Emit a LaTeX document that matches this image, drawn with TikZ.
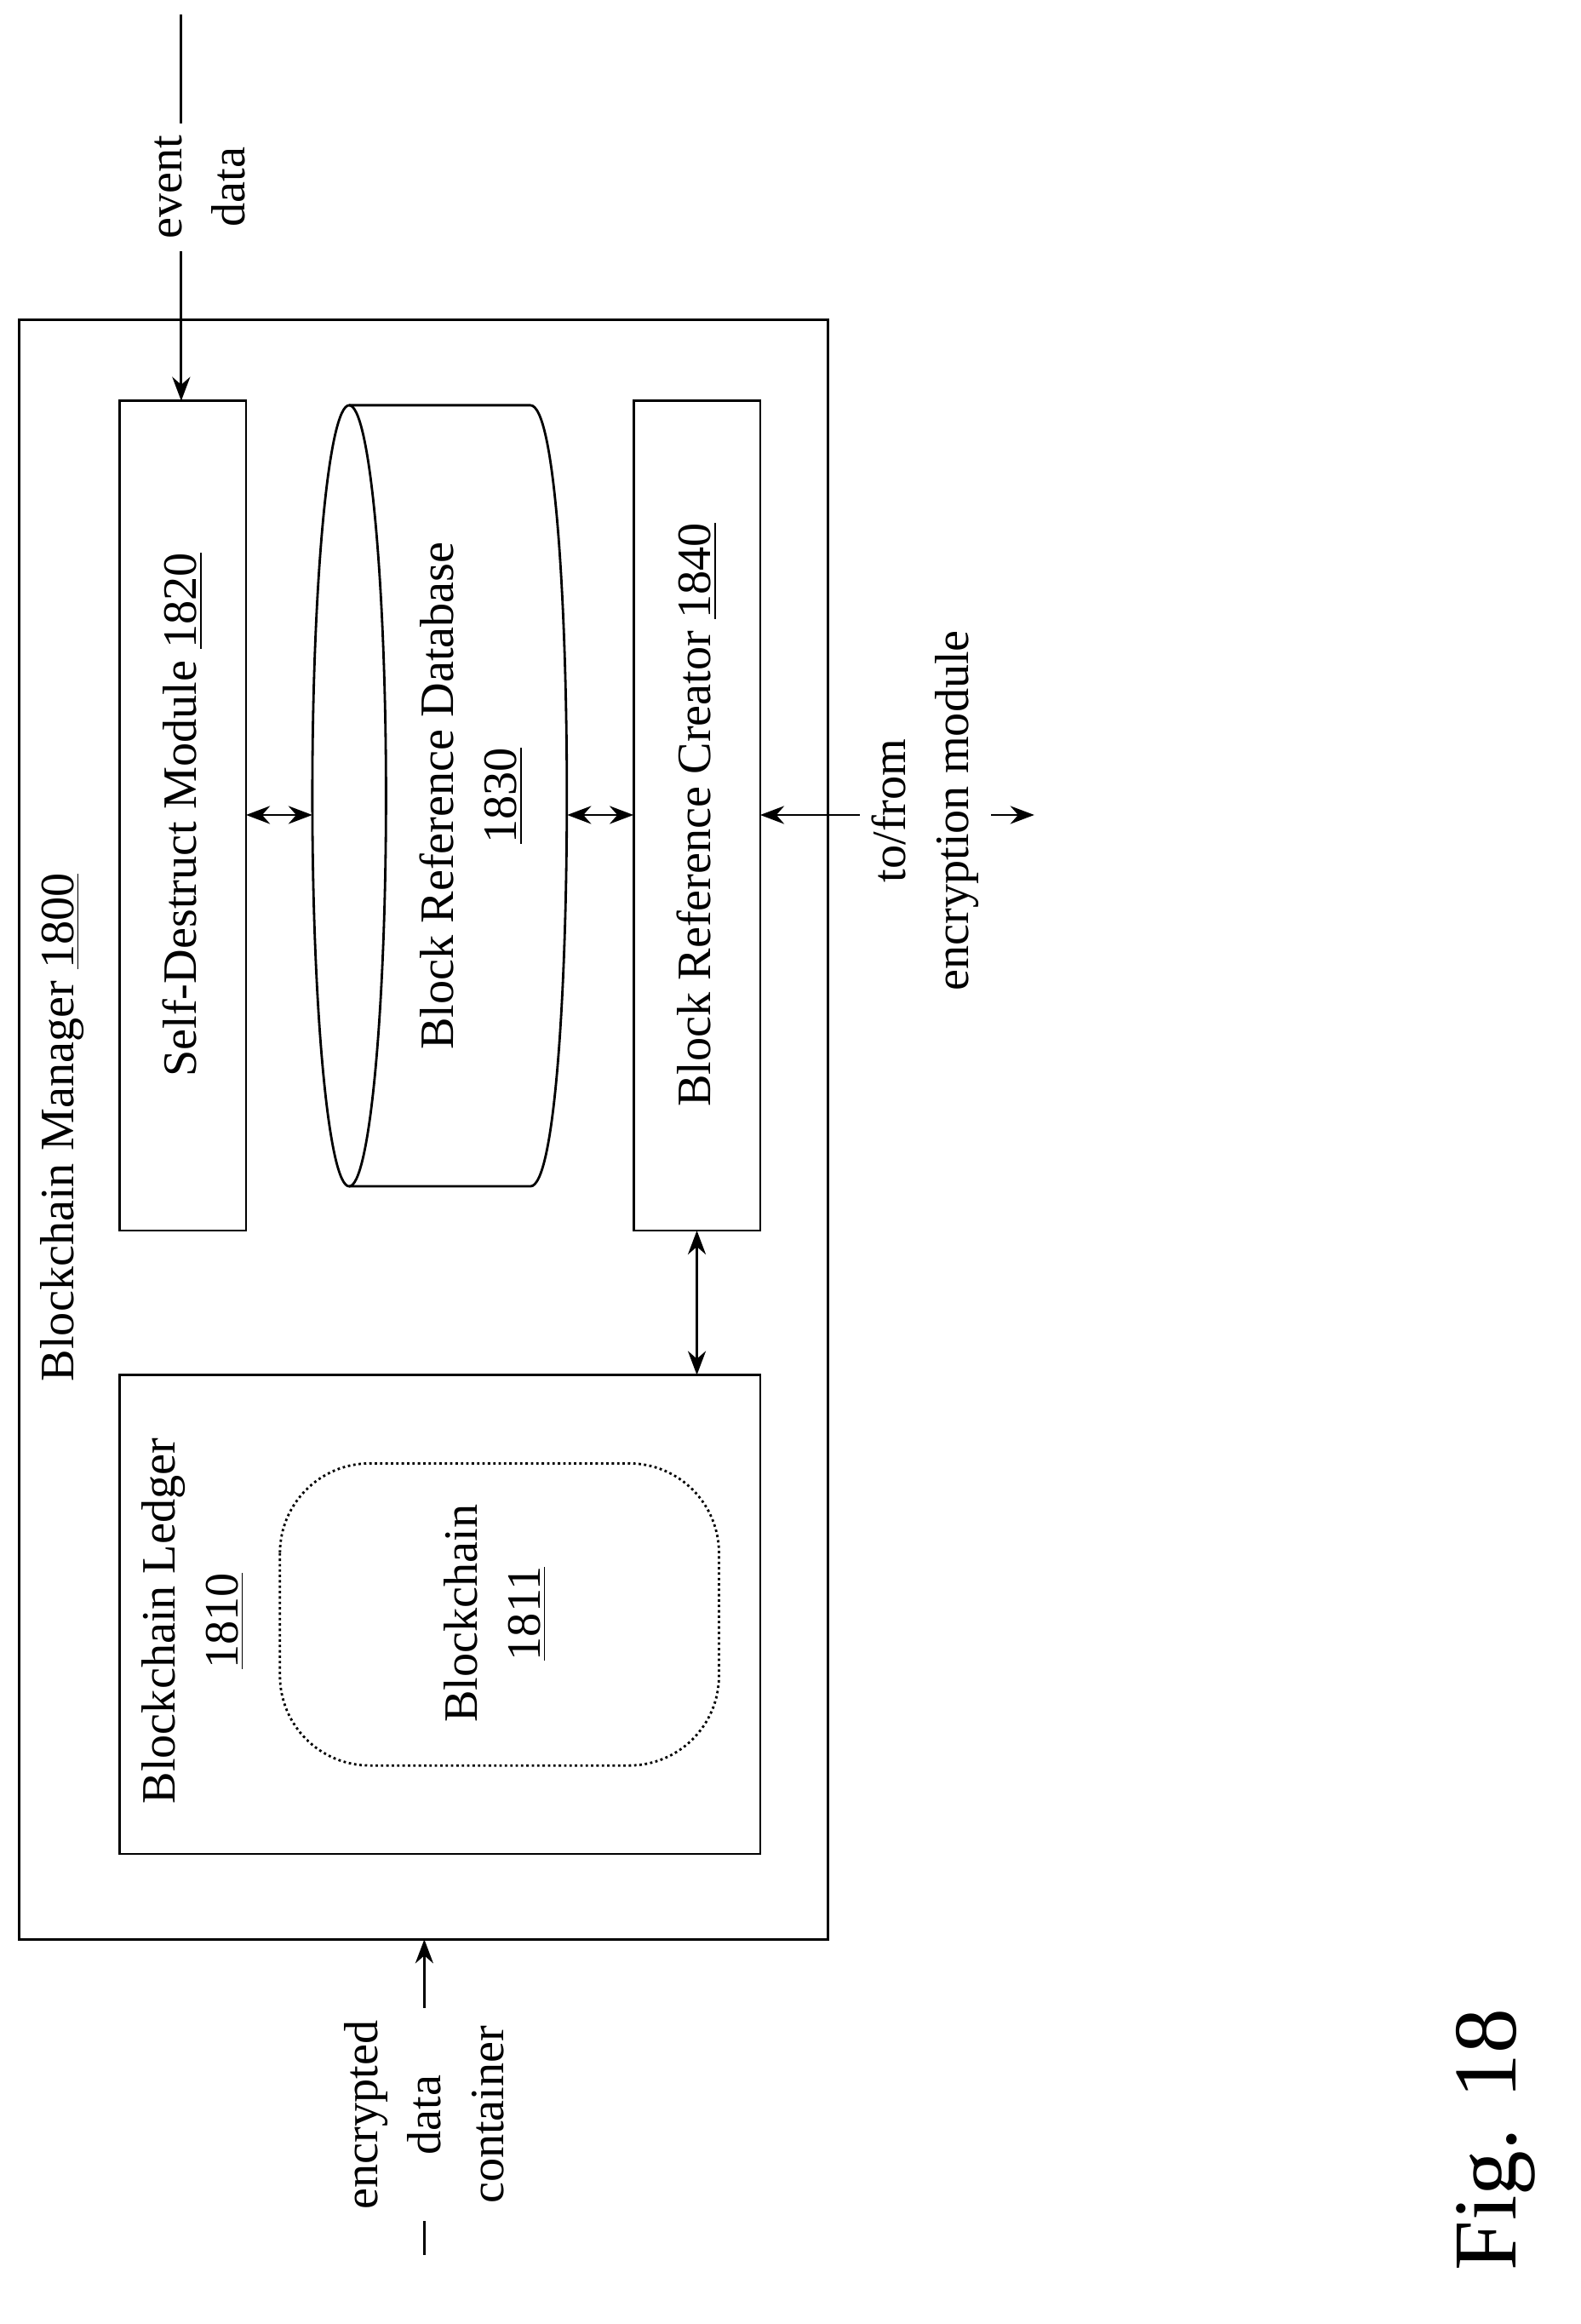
\documentclass[tikz,border=0pt]{standalone}
\usepackage{fontspec}
\setmainfont{Liberation Serif}
\usetikzlibrary{arrows.meta}
\begin{document}
\begin{tikzpicture}[x=0.017307cm,y=-0.017307cm,font=\fontsize{16}{21}\selectfont,
  box/.style={draw=black,thick},
  lbl/.style={rotate=90,align=center,inner sep=2pt},
  io/.style={rotate=90,align=center,fill=white,inner sep=4pt},
  link/.style={thick,{Stealth[length=8pt]}-{Stealth[length=8pt]}},
  feed/.style={thick,-{Stealth[length=8pt]}}]
\useasboundingbox (0,0) rectangle (1073,1577);
% outer manager
\draw[box] (13,217) rectangle (562,1316);
\node[lbl] (mgr) at (42,765) {Blockchain Manager \underline{1800}};
% modules
\draw[box] (81,272) rectangle (167,835);
\node[lbl] (sdm) at (124,553) {Self-Destruct Module \underline{1820}};
\draw[box] (430,272) rectangle (516,835);
\node[lbl] (brc) at (473,553) {Block Reference Creator \underline{1840}};
% database cylinder
\draw[box] (237,540) ellipse [x radius=25,y radius=265];
\draw[box] (237,275) -- (360,275) .. controls (393,275) and (393,805) .. (360,805) -- (237,805);
\node[lbl] (db) at (320,540) {Block Reference Database\\\underline{1830}};
% ledger
\draw[box] (81,933) rectangle (516,1258);
\node[lbl] (ledger) at (131,1100) {Blockchain Ledger\\\underline{1810}};
\draw[thick,densely dotted,rounded corners=30] (190,993) rectangle (488,1198);
\node[lbl] (chain) at (336,1095) {Blockchain\\\underline{1811}};
% connectors
\coordinate (sdmR) at (167,553); \coordinate (dbL) at (212,553);
\coordinate (dbR) at (385,553); \coordinate (brcL) at (430,553);
\coordinate (brcB) at (473,835); \coordinate (ledT) at (473,933);
\draw[link] (sdmR) -- (dbL);
\draw[link] (dbR) -- (brcL);
\draw[link] (brcB) -- (ledT);
% external flows
\coordinate (evS) at (123,10); \coordinate (evE) at (123,272);
\draw[feed] (evS) -- (evE);
\node[io] (ev) at (136,127) {event\\data};
\coordinate (encS) at (288,1530); \coordinate (encE) at (288,1316);
\draw[feed] (encS) -- (encE);
\node[io] (enc) at (288,1435) {encrypted\\data\\container};
\coordinate (modS) at (516,553); \coordinate (modE) at (702,553);
\draw[link] (modS) -- (modE);
\node[io] (mod) at (628,550) {to/from\\encryption module};
\node[rotate=90,font=\fontsize{30}{34}\selectfont] (fig) at (1015,1452) {Fig. 18};
\end{tikzpicture}
\end{document}
